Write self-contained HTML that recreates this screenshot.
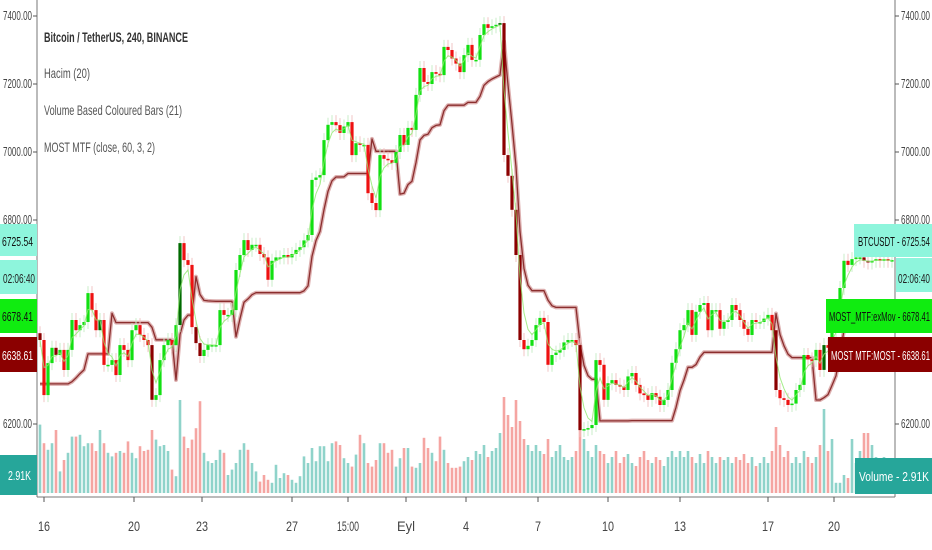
<!DOCTYPE html>
<html><head><meta charset="utf-8"><style>
html,body{margin:0;padding:0;background:#fff;width:932px;height:550px;overflow:hidden;}
svg{display:block;font-family:"Liberation Sans",sans-serif;}
</style></head><body>
<svg id="chart" width="932" height="550" viewBox="0 0 932 550" xmlns="http://www.w3.org/2000/svg">
<rect x="0" y="0" width="932" height="550" fill="#ffffff"/>
<g id="vol"></g>
<g id="most"></g>
<g id="candles"></g>
<g id="exmov"></g>
<line x1="37" y1="0" x2="37" y2="497" stroke="#777" stroke-width="1"/>
<line x1="895" y1="0" x2="895" y2="497" stroke="#777" stroke-width="1"/>
<line x1="37" y1="497" x2="895" y2="497" stroke="#777" stroke-width="1"/>
<g id="yaxis"></g>
<g id="xaxis"></g>
<g font-size="14" lengthAdjust="spacingAndGlyphs">
<text x="44" y="42" fill="#333" font-weight="bold" textLength="144" lengthAdjust="spacingAndGlyphs">Bitcoin / TetherUS, 240, BINANCE</text>
<text x="44" y="78" fill="#555" textLength="46" lengthAdjust="spacingAndGlyphs">Hacim (20)</text>
<text x="44" y="115" fill="#555" textLength="138" lengthAdjust="spacingAndGlyphs">Volume Based Coloured Bars (21)</text>
<text x="44" y="152" fill="#555" textLength="111" lengthAdjust="spacingAndGlyphs">MOST MTF (close, 60, 3, 2)</text>
</g>
<g font-size="13">
<rect x="0" y="224" width="37" height="32" fill="#8ef5dc"/>
<text x="2" y="246" fill="#111" textLength="31" lengthAdjust="spacingAndGlyphs">6725.54</text>
<rect x="0" y="260" width="37" height="34" fill="#8ef5dc"/>
<text x="3" y="283" fill="#222" textLength="32" lengthAdjust="spacingAndGlyphs">02:06:40</text>
<rect x="0" y="299" width="37" height="34" fill="#10ec10"/>
<text x="2" y="321" fill="#111" textLength="31" lengthAdjust="spacingAndGlyphs">6678.41</text>
<rect x="0" y="337" width="37" height="35" fill="#8b0000"/>
<text x="2" y="360" fill="#fff" textLength="31" lengthAdjust="spacingAndGlyphs">6638.61</text>
<rect x="0" y="455" width="37" height="40" fill="#26a69a"/>
<text x="8" y="480" fill="#fff" textLength="23" lengthAdjust="spacingAndGlyphs">2.91K</text>
</g>
<g font-size="13">
<rect x="854" y="224" width="78" height="33" fill="#8ef5dc"/>
<text x="858" y="246" fill="#111" textLength="72" lengthAdjust="spacingAndGlyphs">BTCUSDT - 6725.54</text>
<rect x="896" y="258" width="36" height="34" fill="#8ef5dc"/>
<text x="898" y="283" fill="#222" textLength="32" lengthAdjust="spacingAndGlyphs">02:06:40</text>
<rect x="826" y="299" width="106" height="34" fill="#10ec10"/>
<text x="829" y="321" fill="#111" textLength="101" lengthAdjust="spacingAndGlyphs">MOST_MTF:exMov - 6678.41</text>
<rect x="828" y="337" width="104" height="35" fill="#8b0000"/>
<text x="831" y="360" fill="#fff" textLength="99" lengthAdjust="spacingAndGlyphs">MOST MTF:MOST - 6638.61</text>
<rect x="855" y="458" width="77" height="36" fill="#26a69a"/>
<text x="859" y="481" fill="#fff" textLength="70" lengthAdjust="spacingAndGlyphs">Volume - 2.91K</text>
</g>
</svg>
<script>
const closes=[6447,6285,6379,6424,6403,6418,6359,6418,6506,6476,6491,6500,6585,6535,6476,6506,6374,6374,6388,6344,6432,6418,6388,6476,6491,6462,6447,6432,6271,6285,6388,6432,6447,6432,6491,6732,6682,6668,6485,6438,6400,6418,6432,6432,6432,6535,6521,6521,6535,6653,6697,6741,6712,6727,6727,6700,6690,6624,6680,6690,6690,6697,6690,6700,6712,6720,6740,6756,6918,6925,6932,7035,7080,7088,7079,7056,7075,7088,6991,7026,7021,7021,6879,6850,6829,6991,6980,6976,6968,7000,7050,7021,7071,7065,7168,7247,7206,7200,7235,7230,7226,7309,7300,7275,7260,7235,7285,7315,7271,7271,7344,7376,7365,7370,7374,7379,6991,6930,6830,6697,6447,6420,6430,6447,6491,6512,6500,6374,6403,6410,6418,6440,6447,6447,6432,6182,6185,6188,6197,6388,6374,6271,6320,6329,6315,6310,6300,6340,6350,6315,6290,6285,6271,6291,6280,6256,6271,6300,6380,6420,6476,6491,6535,6462,6530,6550,6556,6476,6535,6535,6480,6500,6506,6550,6535,6506,6480,6462,6506,6500,6500,6510,6521,6476,6300,6276,6271,6256,6260,6300,6315,6403,6390,6388,6418,6359,6432,6424,6470,6500,6600,6680,6668,6685,6690,6690,6680,6675,6680,6685,6680,6685,6680,6682];
const volumes=[11.4,8.3,7.2,8.3,10.5,3.6,5.5,6.7,9.4,9.4,9.7,7.8,8.3,8.3,7,10.5,8.3,6.7,6.1,6.7,7,6.7,8.6,6.7,5.8,7.8,7,7.2,10.5,8.9,7.8,8,7,3.9,2.8,15.5,9.4,7.5,8.9,10.8,15.3,6.7,5.3,5,5.5,7.2,6.7,3,3.9,5,7.2,8.3,7.2,5,3.6,1.9,3,2.2,1.7,4.7,2.5,3.3,3,2.2,1.7,2.8,6.1,5,7.5,5.3,7.8,7.8,5.3,8.3,8.6,8,5.8,5,4.4,6.4,9.7,8.3,5,4.4,5.5,8.3,8.3,6.7,7.2,4.4,5.8,7.5,7.5,4.4,4.2,5,9.2,7.5,6.7,5.3,9.4,7.2,5,4.2,4.2,4.4,5.3,6,5.5,7,6.5,8,6,7,7.5,10,16,13,11,15.5,12,9,8,7,8,7,6.5,9,6,7,8,6,5.5,6,7,10.5,9,7,6,8,7,6.5,5,6,7,5,6,6.5,5,4.5,6,7,5.5,5,6,5.5,4.5,6,7,6,7,6,7,6,5,6.5,5,7,6,5,6,5.5,6,5,6,5.5,6.5,5,6,4.5,5,6,5,7,11,8,6,7,5,6,5,7,6,5,6,8,14,7,9,1.7,1.7,3,2.5,9,5,7,10,10,8,6,5,6,5,2.91];
const priceTicks=[7400,7200,7000,6800,6200];
const dateLabels=["16","20","23","27","15:00","Eyl","4","7","10","13","17","20"];
const dateIndex=[1,23.5,40.5,63,77,91.5,106.5,124.5,142,160,182,198.5];

const NS="http://www.w3.org/2000/svg";
const X0=40,X1=892;
const N=closes.length;
const xs=i=>X0+i*(X1-X0)/(N-1);
const ys=p=>16+(7400-p)*0.34;
const vy=v=>493-v*6;
function mk(tag,attrs,parent){const e=document.createElementNS(NS,tag);for(const k in attrs)e.setAttribute(k,attrs[k]);parent.appendChild(e);return e;}

const gv=document.getElementById('vol');
for(let i=0;i<volumes.length&&i<N;i++){
  const o=i>0?closes[i-1]:closes[i];const up=closes[i]>=o;
  const r=mk('rect',{x:(xs(i)-1.3).toFixed(1),y:vy(volumes[i]).toFixed(1),width:2.6,height:(493-vy(volumes[i])).toFixed(1),fill:up?'#8fd3ca':'#f5a5a2'},gv);
  
  
}
const ema=[];const k=2/(3+1);
closes.forEach((c,i)=>ema.push(i?ema[i-1]+k*(c-ema[i-1]):c));
const most=[];
for(let i=0;i<N;i++){
  const e=ema[i];
  if(i===0){most.push(e*0.98);continue;}
  const prev=most[i-1];
  if(e>prev&&ema[i-1]>prev) most.push(Math.max(prev,e*0.98));
  else if(e<prev&&ema[i-1]<prev) most.push(Math.min(prev,e*1.02));
  else most.push(e>prev?e*0.98:e*1.02);
}
const gm=document.getElementById('most');
const mp=most.map((v,i)=>(i?'L':'M')+xs(i).toFixed(1)+','+ys(v).toFixed(1)).join(' ');
const halo=mk('path',{d:mp,fill:'none',stroke:'#ddb0b0',"stroke-width":4,"stroke-linejoin":"round"},gm);


const ml=mk('path',{d:mp,fill:'none',stroke:'#8b2e2e',"stroke-width":1.3,"stroke-linejoin":"round"},gm);


const gc=document.getElementById('candles');
for(let i=0;i<N;i++){
  const o=i>0?closes[i-1]:closes[i]+20;const c=closes[i];const up=c>=o;
  const big=(volumes[i]||0)>=10;
  const col=up?(big?'#006a00':'#12e012'):(big?'#8b0000':'#ee1111');
  const yt=ys(Math.max(o,c)),yb=ys(Math.min(o,c));
  const w=mk('line',{x1:xs(i).toFixed(1),x2:xs(i).toFixed(1),y1:(yt-7).toFixed(1),y2:(yb+7).toFixed(1),stroke:up?'#c8ecc8':'#f2c4c4',"stroke-width":1},gc);
  
  
  const b=mk('rect',{x:(xs(i)-1.6).toFixed(1),y:yt.toFixed(1),width:3.2,height:Math.max(1.5,yb-yt).toFixed(1),fill:col},gc);
  
  
}
const ge=document.getElementById('exmov');
const ex=mk('path',{d:ema.map((v,i)=>(i?'L':'M')+xs(i).toFixed(1)+','+ys(v).toFixed(1)).join(' '),fill:'none',stroke:'#8ee86e',"stroke-width":1,opacity:0.8},ge);


const ga=document.getElementById('yaxis');
priceTicks.forEach(p=>{
  const y=ys(p);
  [0,1].forEach(side=>{
    mk('line',{x1:side?895:33,x2:side?899:37,y1:y,y2:y,stroke:'#555'},ga);
    const t=mk('text',{x:side?901:3,y:y+4,"font-size":13,fill:'#444',textLength:29,lengthAdjust:'spacingAndGlyphs'},ga);
    t.textContent=p.toFixed(2);
    
    
  });
});
const gx=document.getElementById('xaxis');
dateLabels.forEach((d,j)=>{
  const x=xs(dateIndex[j]);
  mk('line',{x1:x,x2:x,y1:497,y2:502,stroke:'#555'},gx);
  const w=d.length>3?22:d.length*6;
  const t=mk('text',{x:x-w/2,y:531,"font-size":14,fill:'#444',textLength:w,lengthAdjust:'spacingAndGlyphs'},gx);
  t.textContent=d;
  
  
});
</script>
</body></html>
